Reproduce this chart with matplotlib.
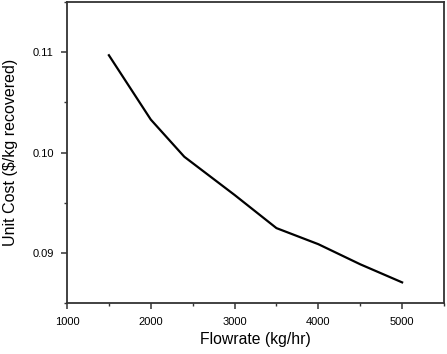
import matplotlib
matplotlib.use("Agg")
import matplotlib.pyplot as plt
from matplotlib.ticker import MultipleLocator

plt.rcParams['font.family'] = ['Liberation Sans', 'DejaVu Sans']

flowrate = [1500, 2000, 2400, 3000, 3500, 4000, 4500, 5000]
unit_cost = [0.1097, 0.1033, 0.0996, 0.0958, 0.0925, 0.0909, 0.0889, 0.0871]

fig = plt.figure(figsize=(4.47, 3.54), dpi=100)
ax = fig.add_axes([0.1499, 0.1427, 0.8434, 0.8517])
ax.plot(flowrate, unit_cost, color='black', linewidth=1.6)

ax.set_xlim(1000, 5500)
ax.set_ylim(0.085, 0.115)
ax.xaxis.set_major_locator(MultipleLocator(1000))
ax.xaxis.set_minor_locator(MultipleLocator(500))
ax.yaxis.set_major_locator(MultipleLocator(0.01))
ax.yaxis.set_minor_locator(MultipleLocator(0.005))
ax.yaxis.set_major_formatter(plt.FuncFormatter(lambda v, p: f"{v:.2f}"))

for s in ax.spines.values():
    s.set_linewidth(1.3)
    s.set_color('#333333')
ax.tick_params(which='major', direction='out', length=4, width=1.1, labelsize=8, color='#333333')
ax.tick_params(axis='x', which='major', pad=6)
ax.tick_params(axis='y', which='major', pad=5.5)
ax.tick_params(which='minor', direction='out', length=2.5, width=1.0, color='#333333')

ax.set_xlabel('Flowrate (kg/hr)', fontsize=11.3, labelpad=3)
ax.set_ylabel('Unit Cost ($/kg recovered)', fontsize=11.5, labelpad=10)

fig.savefig('out.png', dpi=100)
